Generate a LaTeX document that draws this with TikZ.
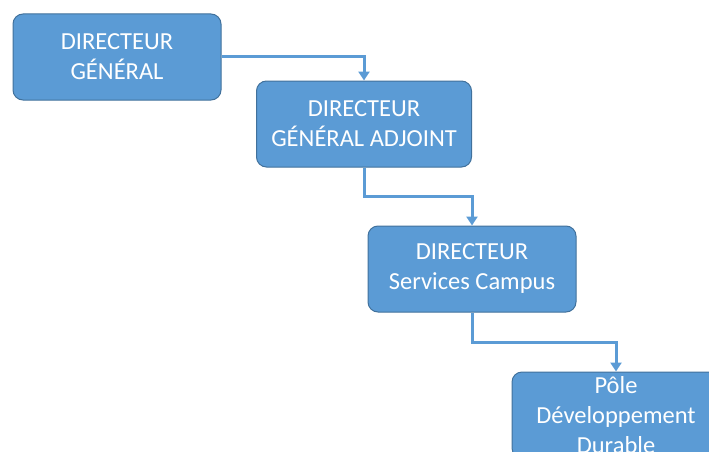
\documentclass[tikz,border=0pt]{standalone}
\usepackage{fontspec}
\setmainfont{Carlito}
\usepackage{tikz}
\usetikzlibrary{arrows.meta}
\definecolor{officeblue}{RGB}{91, 155, 213}
\definecolor{borderblue}{RGB}{65, 113, 156}
\tikzset{
    orgbox/.style={draw=borderblue,line width=1pt,fill=officeblue,rounded corners=10pt,
        text=white,font=\fontsize{24.5}{30}\selectfont,align=center,
        minimum width=208pt,minimum height=86pt,inner sep=0pt},
    link/.style={draw=officeblue,line width=3pt,-{Triangle[length=9pt,width=11pt]}}
}

\begin{document}
\begin{tikzpicture}[x=1pt,y=-1pt]
    \useasboundingbox (0,0) rectangle (709,452);

    % Boxes
    \node[orgbox] (dg) at (117,57) {DIRECTEUR\\GÉNÉRAL};
    \node[orgbox,minimum width=215pt] (dga) at (364,124) {DIRECTEUR\\GÉNÉRAL ADJOINT};
    \node[orgbox] (dsc) at (472,269) {DIRECTEUR\\Services Campus};
    \node[orgbox] (pdd) at (616,415) {Pôle\\Développement\\Durable};

    % Links
    \draw[link] (dg.east) -| (dga.north);
    \draw[link] (dga.south) -- ++(0,29) -| (dsc.north);
    \draw[link] (dsc.south) -- ++(0,30) -| (pdd.north);
\end{tikzpicture}
\end{document}
